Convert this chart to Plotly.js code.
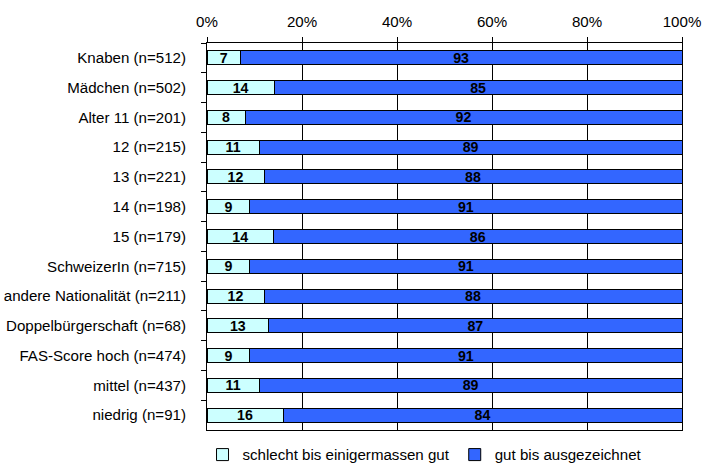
<!DOCTYPE html>
<html>
<head>
<meta charset="utf-8">
<script src="https://cdn.plot.ly/plotly-3.0.1.min.js"></script>
<style>
  html, body { margin: 0; padding: 0; background: #ffffff; }
  #chart { width: 703px; height: 466px; }
</style>
</head>
<body>
<div id="chart"></div>
<script>
// Groups shown on the vertical axis, top to bottom
const categories = [
  "Knaben (n=512)",
  "Mädchen (n=502)",
  "Alter 11 (n=201)",
  "12 (n=215)",
  "13 (n=221)",
  "14 (n=198)",
  "15 (n=179)",
  "SchweizerIn (n=715)",
  "andere Nationalität (n=211)",
  "Doppelbürgerschaft (n=68)",
  "FAS-Score hoch (n=474)",
  "mittel (n=437)",
  "niedrig (n=91)"
];

// Share (%) per answer group
const schlecht = [7, 14, 8, 11, 12, 9, 14, 9, 12, 13, 9, 11, 16];
const gut      = [93, 85, 92, 89, 88, 91, 86, 91, 88, 87, 91, 89, 84];

const seriesNames = ["schlecht bis einigermassen gut", "gut bis ausgezeichnet"];
const xTicks = [0, 20, 40, 60, 80, 100];

const FONT = "Liberation Sans, Arial, sans-serif";
const TICK_SIZE = 15.1;

function barTrace(name, values, color) {
  return {
    type: "bar",
    orientation: "h",
    name: name,
    y: categories,
    x: values,
    text: values.map(String),
    texttemplate: "%{text}",
    textposition: "inside",
    insidetextanchor: "middle",
    textangle: 0,
    constraintext: "none",
    textfont: { family: FONT, size: 14.2, color: "#000000", weight: "bold" },
    marker: { color: color, line: { color: "#000000", width: 1 } },
    hoverinfo: "skip"
  };
}

const data = [
  barTrace(seriesNames[0], schlecht, "#CCFFFF"),
  barTrace(seriesNames[1], gut, "#3366FF")
];

const layout = {
  width: 703,
  height: 466,
  margin: { l: 207, r: 21, t: 43, b: 36, autoexpand: false },
  paper_bgcolor: "#ffffff",
  plot_bgcolor: "#ffffff",
  barmode: "stack",
  barnorm: "percent",
  bargap: 0.53,
  showlegend: true,
  font: { family: FONT, size: TICK_SIZE, color: "#000000" },
  xaxis: {
    side: "top",
    range: [0, 100],
    tickvals: xTicks,
    ticktext: xTicks.map(v => v + "%"),
    ticks: "outside",
    ticklen: 5,
    tickcolor: "#000000",
    ticklabelstandoff: 4,
    showgrid: true,
    gridcolor: "#000000",
    gridwidth: 1,
    showline: true,
    linecolor: "#000000",
    linewidth: 1,
    mirror: true,
    zeroline: false,
    fixedrange: true,
    tickfont: { family: FONT, size: TICK_SIZE, color: "#000000" }
  },
  yaxis: {
    type: "category",
    autorange: "reversed",
    tickson: "boundaries",
    ticks: "outside",
    ticklen: 5,
    tickcolor: "#000000",
    ticklabelstandoff: 17,
    showgrid: false,
    showline: true,
    linecolor: "#000000",
    linewidth: 1,
    mirror: true,
    fixedrange: true,
    tickfont: { family: FONT, size: TICK_SIZE, color: "#000000" }
  },
  legend: {
    orientation: "h",
    traceorder: "normal",
    itemwidth: 30,
    x: 0.459,
    xanchor: "center",
    y: -0.064,
    yanchor: "middle",
    font: { family: FONT, size: TICK_SIZE, color: "#000000" },
    bgcolor: "rgba(0,0,0,0)",
    itemclick: false,
    itemdoubleclick: false
  }
};

Plotly.newPlot("chart", data, layout, { staticPlot: true, displayModeBar: false });
</script>
</body>
</html>
